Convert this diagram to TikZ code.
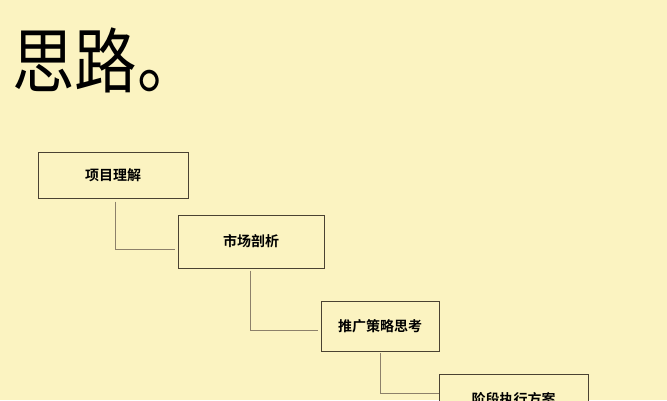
\documentclass[tikz,border=0pt]{standalone}
\usepackage{fontspec}
\newfontfamily\cjk{Noto Sans CJK SC}
\newfontfamily\cjkb{Noto Sans CJK SC Bold}
\definecolor{bg}{HTML}{FBF3C1}
\definecolor{frame}{HTML}{4A4232}
\definecolor{link}{HTML}{8C806A}
\begin{document}
\begin{tikzpicture}[x=1pt,y=-1pt,
  stepbox/.style={draw=frame,line width=1pt,fill=bg,minimum width=#1,inner sep=0pt,font=\cjkb\fontsize{14}{16}\selectfont,text=black},
  stepbox/.default=150pt,
  linkline/.style={draw=link,line width=1pt}]
\useasboundingbox (0,0) rectangle (667,400);
\clip (0,0) rectangle (667,400);
\fill[bg] (0,0) rectangle (667,400);
\node[anchor=base west,inner sep=0pt,xscale=0.88,transform shape,font=\cjk\fontsize{71}{80}\selectfont] (title) at (12,87) {思路。};
\node[stepbox=150pt,minimum height=46pt] (b1) at (113,175) {项目理解};
\node[stepbox=146pt,minimum height=53pt] (b2) at (251,241.5) {市场剖析};
\node[stepbox=118pt,minimum height=50pt] (b3) at (380,326) {推广策略思考};
\node[stepbox=149pt,minimum height=50pt] (b4) at (513.5,399) {阶段执行方案};
\draw[linkline] ([xshift=2pt,yshift=-3pt]b1.south) |- ([xshift=-3pt,yshift=-7.5pt]b2.west);
\draw[linkline] ([xshift=-1pt,yshift=-2pt]b2.south) |- ([xshift=-3pt,yshift=-4pt]b3.west);
\draw[linkline] ([yshift=-1pt]b3.south) |- ([yshift=6pt]b4.west);
\end{tikzpicture}
\end{document}
